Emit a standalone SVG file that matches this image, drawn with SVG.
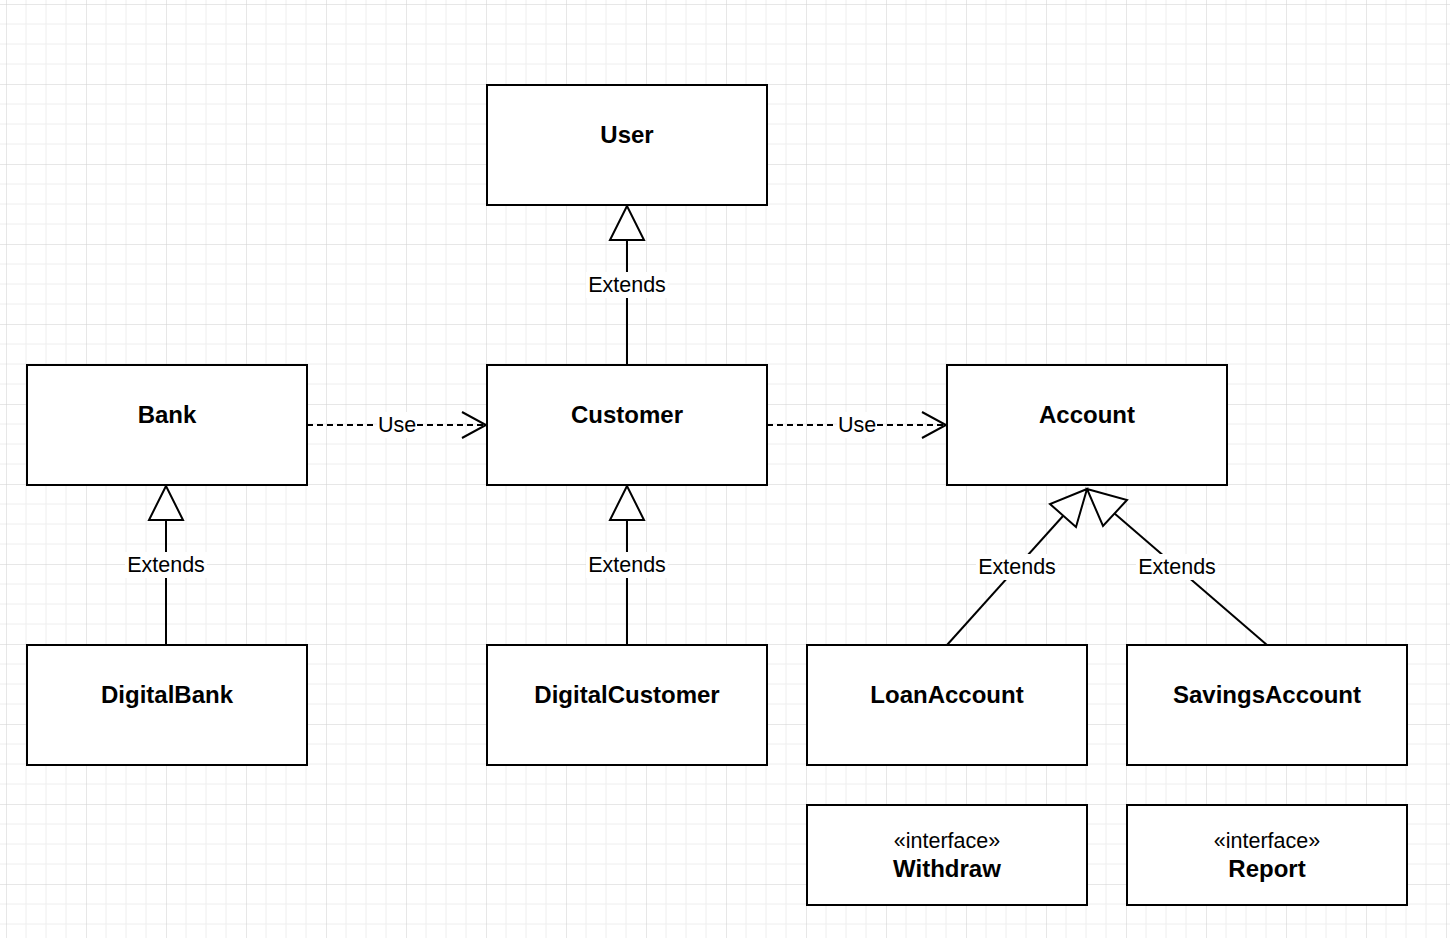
<svg xmlns="http://www.w3.org/2000/svg" width="1450" height="938" viewBox="0 0 1450 938">
<style>
.box{fill:#fff;stroke:#000;stroke-width:2}
.t{font-family:"Liberation Sans",Arial,sans-serif;font-size:24px;font-weight:bold;text-anchor:middle;fill:#000}
.st{font-family:"Liberation Sans",Arial,sans-serif;font-size:21.5px;text-anchor:middle;fill:#000}
.lbl{font-family:"Liberation Sans",Arial,sans-serif;font-size:21.5px;text-anchor:middle;fill:#000}
.ln{stroke:#000;stroke-width:2;fill:none}
.dash{stroke:#000;stroke-width:2;fill:none;stroke-dasharray:6 4}
.tri{fill:#fff;stroke:#000;stroke-width:2}
.bg{fill:#fff}
</style>
<defs>
<pattern id="grid" patternUnits="userSpaceOnUse" x="6" y="4" width="80" height="80">
<path d="M20 0V80M40 0V80M60 0V80M0 20H80M0 40H80M0 60H80" stroke="#eeeeee" stroke-width="1" fill="none"/>
<path d="M0 0V80M0 0H80" stroke="#cfcfcf" stroke-width="1" fill="none"/>
</pattern>
</defs>
<rect width="1450" height="938" fill="#fff"/>
<rect width="1450" height="938" fill="url(#grid)"/>
<g id="connectors">
<line class="ln" x1="627" y1="365" x2="627" y2="240"/>
<polygon class="tri" points="627,206 610,240 644,240"/>
<rect class="bg" x="586" y="272" width="82" height="26"/>
<text class="lbl" x="627" y="292">Extends</text>
<line class="ln" x1="166" y1="645" x2="166" y2="520"/>
<polygon class="tri" points="166,486 149,520 183,520"/>
<rect class="bg" x="125" y="552" width="82" height="26"/>
<text class="lbl" x="166" y="572">Extends</text>
<line class="ln" x1="627" y1="645" x2="627" y2="520"/>
<polygon class="tri" points="627,486 610,520 644,520"/>
<rect class="bg" x="586" y="552" width="82" height="26"/>
<text class="lbl" x="627" y="572">Extends</text>
<line class="dash" x1="307" y1="425" x2="486" y2="425"/>
<polyline class="ln" points="462,412 486,425 462,438"/>
<rect class="bg" x="377" y="412" width="40" height="26"/>
<text class="lbl" x="397" y="432">Use</text>
<line class="dash" x1="767" y1="425" x2="946" y2="425"/>
<polyline class="ln" points="922,412 946,425 922,438"/>
<rect class="bg" x="837" y="412" width="40" height="26"/>
<text class="lbl" x="857" y="432">Use</text>
<line class="ln" x1="947" y1="645" x2="1063" y2="516"/>
<polygon class="tri" points="1087,489 1050,504 1076,527"/>
<rect class="bg" x="976" y="554" width="82" height="26"/>
<text class="lbl" x="1017" y="574">Extends</text>
<line class="ln" x1="1267" y1="645" x2="1114" y2="513"/>
<polygon class="tri" points="1087,489 1127,500 1103,526"/>
<rect class="bg" x="1136" y="554" width="82" height="26"/>
<text class="lbl" x="1177" y="574">Extends</text>
</g>
<g id="User"><rect class="box" x="487" y="85" width="280" height="120"/><text class="t" x="627" y="143">User</text></g>
<g id="Bank"><rect class="box" x="27" y="365" width="280" height="120"/><text class="t" x="167" y="423">Bank</text></g>
<g id="Customer"><rect class="box" x="487" y="365" width="280" height="120"/><text class="t" x="627" y="423">Customer</text></g>
<g id="Account"><rect class="box" x="947" y="365" width="280" height="120"/><text class="t" x="1087" y="423">Account</text></g>
<g id="DigitalBank"><rect class="box" x="27" y="645" width="280" height="120"/><text class="t" x="167" y="703">DigitalBank</text></g>
<g id="DigitalCustomer"><rect class="box" x="487" y="645" width="280" height="120"/><text class="t" x="627" y="703">DigitalCustomer</text></g>
<g id="LoanAccount"><rect class="box" x="807" y="645" width="280" height="120"/><text class="t" x="947" y="703">LoanAccount</text></g>
<g id="SavingsAccount"><rect class="box" x="1127" y="645" width="280" height="120"/><text class="t" x="1267" y="703">SavingsAccount</text></g>
<g id="Withdraw"><rect class="box" x="807" y="805" width="280" height="100"/><text class="st" x="947" y="848">«interface»</text><text class="t" x="947" y="877">Withdraw</text></g>
<g id="Report"><rect class="box" x="1127" y="805" width="280" height="100"/><text class="st" x="1267" y="848">«interface»</text><text class="t" x="1267" y="877">Report</text></g>
</svg>
